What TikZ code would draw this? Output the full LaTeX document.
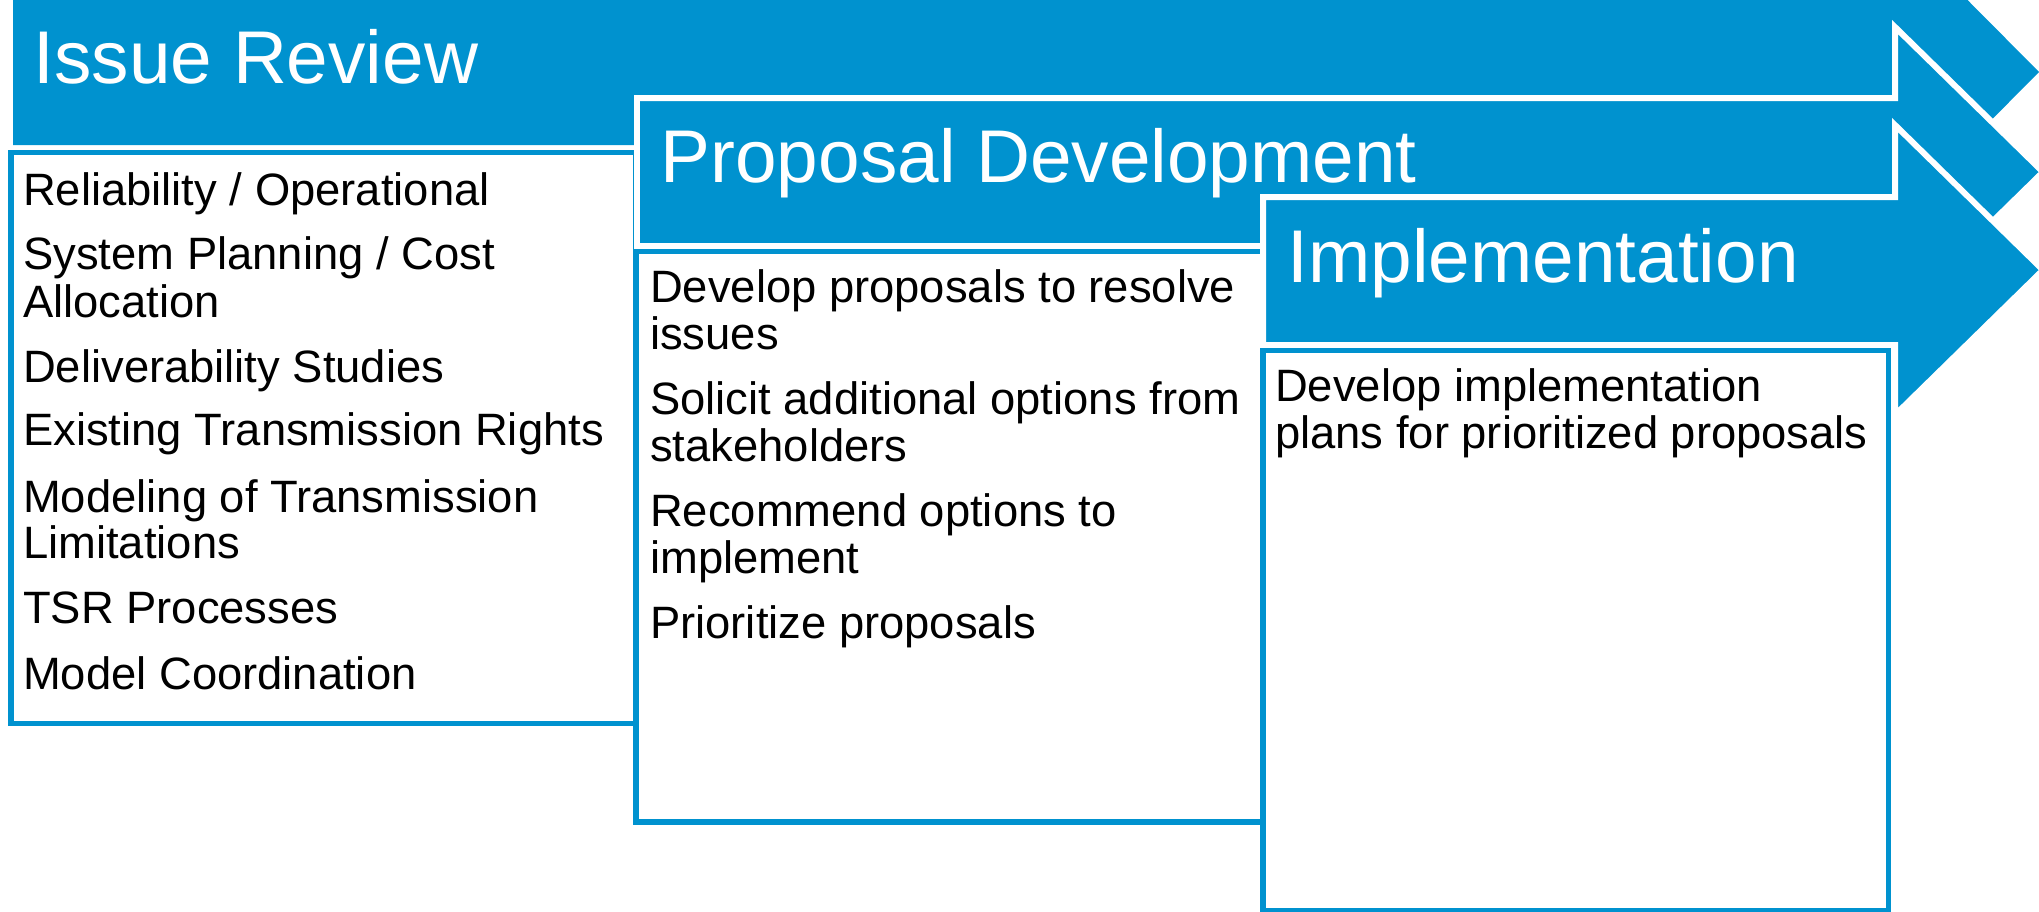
\documentclass[tikz,border=0pt]{standalone}
\usepackage{fontspec}
\setmainfont{Liberation Sans}
\definecolor{isoblue}{RGB}{0,146,207}
\begin{document}
\begin{tikzpicture}[x=0.01cm,y=-0.01cm,
  plainarrow/.style={fill=isoblue},
  outlinedarrow/.style={fill=isoblue, draw=white, line width=1.7pt, line join=miter},
  stagebox/.style={draw=isoblue, line width=1.45pt, fill=white},
  stagetitle/.style={anchor=base west, inner sep=0pt, text=white, font=\fontsize{21.25pt}{25pt}\selectfont},
  itemtext/.style={anchor=base west, inner sep=0pt, text=black, font=\fontsize{12.9pt}{15pt}\selectfont}]
\useasboundingbox (0,0) rectangle (2039,911);
\clip (0,0) rectangle (2039,911);

% Stage 1: Issue Review
\path[plainarrow] (13,-5) -- (1898,-5) -- (1898,-70) -- (2039,72) -- (1898,214) -- (1898,145) -- (13,145) -- cycle;
\draw[stagebox] (11,152.5) rectangle (636,723.5);
\node[stagetitle] (t1) at (33,83) {Issue Review};
\node[itemtext] (a1) at (22.5,205) {Reliability / Operational};
\node[itemtext] (a2) at (22.5,269) {System Planning / Cost};
\node[itemtext] (a2b) at (22.5,317) {Allocation};
\node[itemtext] (a3) at (22.5,382) {Deliverability Studies};
\node[itemtext] (a4) at (22.5,445) {Existing Transmission Rights};
\node[itemtext] (a5) at (22.5,512) {Modeling of Transmission};
\node[itemtext] (a5b) at (22.5,558) {Limitations};
\node[itemtext] (a6) at (22.5,623) {TSR Processes};
\node[itemtext] (a7) at (22.5,689) {Model Coordination};

% Stage 2: Proposal Development
\draw[outlinedarrow] (637,98) -- (1895,98) -- (1895,27) -- (2043,172) -- (1895,317) -- (1895,246) -- (637,246) -- cycle;
\draw[stagebox] (636,251.5) rectangle (1263,822);
\node[stagetitle] (t2) at (660,182) {Proposal Development};
\node[itemtext] (b1) at (649.5,302) {Develop proposals to resolve};
\node[itemtext] (b1b) at (649.5,349) {issues};
\node[itemtext] (b2) at (649.5,414) {Solicit additional options from};
\node[itemtext] (b2b) at (649.5,461) {stakeholders};
\node[itemtext] (b3) at (649.5,526) {Recommend options to};
\node[itemtext] (b3b) at (649.5,573) {implement};
\node[itemtext] (b4) at (649.5,638) {Prioritize proposals};

% Stage 3: Implementation
\draw[outlinedarrow] (1263,197) -- (1895,197) -- (1895,125) -- (2043,270) -- (1895,415) -- (1895,345) -- (1263,345) -- cycle;
\draw[stagebox] (1263,350.5) rectangle (1888.5,910.5);
\node[stagetitle] (t3) at (1287,282) {Implementation};
\node[itemtext] (c1) at (1274.5,401) {Develop implementation};
\node[itemtext] (c1b) at (1274.5,448) {plans for prioritized proposals};
\end{tikzpicture}
\end{document}
